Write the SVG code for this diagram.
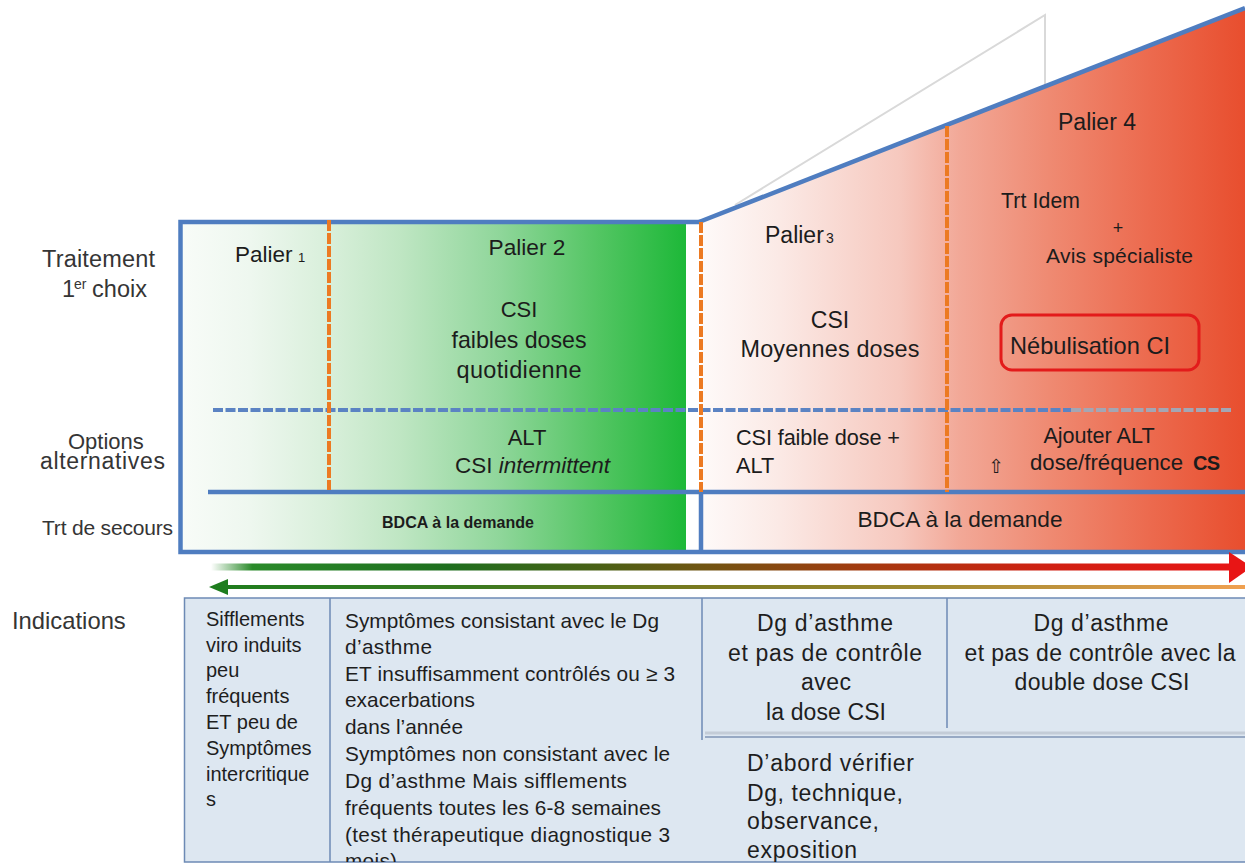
<svg xmlns="http://www.w3.org/2000/svg" width="1245" height="867" viewBox="0 0 1245 867">
<style>
text{font-family:"Liberation Sans",Arial,sans-serif}
.lbl{fill:#353535}
.t{fill:#1c1c1c}
.blue{stroke:#4f7dc0;fill:none;stroke-width:4.5}
.orange{stroke:#ec7a22;stroke-width:4;stroke-dasharray:11 2;fill:none}
.dash{stroke:#5b83c3;stroke-width:4;stroke-dasharray:10 2.5;fill:none}
.dashg{stroke:#a4a6b4;stroke-width:4;stroke-dasharray:10 2.5;fill:none}
.cell{fill:#1e1e1e}
.tline{stroke:#6d8ab5;stroke-width:1.5;fill:none}
</style>
<defs>
<linearGradient id="gGreen" gradientUnits="userSpaceOnUse" x1="182" y1="0" x2="686" y2="0">
<stop offset="0" stop-color="#f8fcf8"/>
<stop offset="0.135" stop-color="#eef7ef"/>
<stop offset="0.294" stop-color="#d8efda"/>
<stop offset="0.433" stop-color="#bfe6c3"/>
<stop offset="0.631" stop-color="#8fd69a"/>
<stop offset="0.829" stop-color="#52c562"/>
<stop offset="1" stop-color="#1db838"/>
</linearGradient>
<linearGradient id="gRed" gradientUnits="userSpaceOnUse" x1="701" y1="0" x2="1245" y2="0">
<stop offset="0" stop-color="#fefaf9"/>
<stop offset="0.145" stop-color="#fbe9e5"/>
<stop offset="0.366" stop-color="#f6c8be"/>
<stop offset="0.476" stop-color="#f2a897"/>
<stop offset="0.64" stop-color="#ef8a72"/>
<stop offset="0.825" stop-color="#ec6a4e"/>
<stop offset="1" stop-color="#e84e2e"/>
</linearGradient>
<linearGradient id="gA1" gradientUnits="userSpaceOnUse" x1="211" y1="0" x2="1245" y2="0">
<stop offset="0" stop-color="#ffffff"/>
<stop offset="0.04" stop-color="#2a8a2a"/>
<stop offset="0.23" stop-color="#1e6e1e"/>
<stop offset="0.376" stop-color="#4a6015"/>
<stop offset="0.473" stop-color="#6f5512"/>
<stop offset="0.637" stop-color="#a5390f"/>
<stop offset="0.811" stop-color="#d02012"/>
<stop offset="1" stop-color="#e81515"/>
</linearGradient>
<linearGradient id="gA2" gradientUnits="userSpaceOnUse" x1="209" y1="0" x2="1245" y2="0">
<stop offset="0" stop-color="#1e7d1e"/>
<stop offset="0.25" stop-color="#3a7a20"/>
<stop offset="0.48" stop-color="#7c7a20"/>
<stop offset="0.7" stop-color="#a08a30"/>
<stop offset="1" stop-color="#f0a050"/>
</linearGradient>
<clipPath id="tclip"><rect x="184" y="598" width="1061" height="264"/></clipPath>
</defs>
<rect width="1245" height="867" fill="#ffffff"/>

<g id="background">
<polyline points="735,205 1045,15 1045,90" stroke="#d9d9d9" stroke-width="2" fill="none"/>
<polygon points="701,222 1245,8 1245,552 701,552" fill="url(#gRed)"/>
<rect x="182" y="224" width="504" height="326" fill="url(#gGreen)"/>
<path class="blue" d="M701,222 H180.5 V552 H701"/>
<path class="blue" d="M699,222 L1245,8"/>
<path class="blue" d="M701,552 H1245 M701,492 V552"/>
<path class="dash" d="M213,410 H1071"/>
<path class="dashg" d="M1071,410 H1232"/>
<path class="blue" stroke-width="5" d="M208,492 H1245"/>
<path class="orange" d="M329,220 V490"/>
<path class="orange" d="M701,222 V492"/>
<path class="orange" d="M947,126 V492"/>
</g>

<g id="row-labels">
<text class="lbl" x="42" y="267" font-size="23.5" textLength="113">Traitement</text>
<text class="lbl" x="62" y="297" font-size="23.5">1<tspan x="74" dy="-8" font-size="14">er</tspan><tspan x="92" dy="8" textLength="55">choix</tspan></text>
<text class="lbl" x="68" y="449" font-size="22">Options</text>
<text class="lbl" x="40" y="469" font-size="23" textLength="125">alternatives</text>
<text class="lbl" x="42" y="535" font-size="21" textLength="131">Trt de secours</text>
<text class="lbl" x="12" y="629" font-size="23.8">Indications</text>
</g>

<g id="palier1">
<text class="t" x="235" y="262" font-size="22.5">Palier<tspan x="298" font-size="13">1</tspan></text>
</g>

<g id="palier2">
<text class="t" x="527" y="255" text-anchor="middle" font-size="22.7">Palier 2</text>
<text class="t" x="519" y="317" text-anchor="middle" font-size="22">CSI</text>
<text class="t" x="519" y="348" text-anchor="middle" font-size="23.2" textLength="135">faibles doses</text>
<text class="t" x="519" y="378" text-anchor="middle" font-size="23.5" textLength="125">quotidienne</text>
<text class="t" x="527" y="445" text-anchor="middle" font-size="22">ALT</text>
<text class="t" x="455" y="473" font-size="22.5">CSI <tspan font-style="italic">intermittent</tspan></text>
<text class="t" x="458" y="528" text-anchor="middle" font-size="16" font-weight="bold" textLength="152">BDCA à la demande</text>
</g>

<g id="palier3">
<text class="t" x="765" y="243" font-size="23">Palier<tspan x="826" font-size="14">3</tspan></text>
<text class="t" x="830" y="328" text-anchor="middle" font-size="23">CSI</text>
<text class="t" x="830" y="357" text-anchor="middle" font-size="23.4" textLength="179">Moyennes doses</text>
<text class="t" x="736" y="445" font-size="21.7" textLength="164">CSI faible dose +</text>
<text class="t" x="736" y="473" font-size="21.7">ALT</text>
<text class="t" x="960" y="527" text-anchor="middle" font-size="22.6" textLength="205">BDCA à la demande</text>
</g>

<g id="palier4">
<text class="t" x="1097" y="130" text-anchor="middle" font-size="23">Palier 4</text>
<text class="t" x="1001" y="208" font-size="21.2" textLength="79">Trt Idem</text>
<text class="t" x="1118" y="234" text-anchor="middle" font-size="18">+</text>
<text class="t" x="1046" y="263" font-size="21" textLength="147">Avis  spécialiste</text>
<rect x="1001" y="315" width="198" height="55" rx="11" fill="none" stroke="#e31b1b" stroke-width="3"/>
<text class="t" x="1010" y="354" font-size="23.6" textLength="160">Nébulisation CI</text>
<text class="t" x="1099" y="443" text-anchor="middle" font-size="21.6">Ajouter ALT</text>
<text class="t" x="988" y="473" font-size="19" style="font-family:'DejaVu Sans',sans-serif">⇧</text>
<text class="t" x="1030" y="470" font-size="22.2" textLength="153">dose/fréquence</text>
<text class="t" x="1193" y="470" font-size="20" font-weight="bold" textLength="27">CS</text>
</g>

<g id="connectors">
<line x1="211" y1="567" x2="1234" y2="567" stroke="url(#gA1)" stroke-width="7"/>
<polygon points="1229,552 1252,567 1229,583" fill="#e81515"/>
<line x1="224" y1="587" x2="1245" y2="587" stroke="url(#gA2)" stroke-width="4"/>
<polygon points="209,587 228,579 228,595" fill="#1e7d1e"/>
</g>

<g id="indications">
<rect x="184.5" y="598" width="1070" height="264" fill="#dde7f1" stroke="#6d8ab5" stroke-width="1.5"/>
<path class="tline" d="M330,598 V862 M702,598 V740 M947,598 V728"/>
<line x1="705" y1="733" x2="1245" y2="733" stroke="#b9c1cd" stroke-width="3" opacity="0.7"/>
<line x1="705" y1="737" x2="1245" y2="737" stroke="#7f95b5" stroke-width="1.5"/>
<g clip-path="url(#tclip)">
<g id="ind-col1" font-size="20">
<text class="cell" x="206" y="626">Sifflements</text>
<text class="cell" x="206" y="652">viro induits</text>
<text class="cell" x="206" y="677">peu</text>
<text class="cell" x="206" y="703">fréquents</text>
<text class="cell" x="206" y="729">ET peu de</text>
<text class="cell" x="206" y="755">Symptômes</text>
<text class="cell" x="206" y="781">intercritique</text>
<text class="cell" x="206" y="806">s</text>
</g>
<g id="ind-col2" font-size="20.8">
<text class="cell" x="345" y="628" textLength="314">Symptômes consistant avec le Dg</text>
<text class="cell" x="345" y="654" textLength="87">d’asthme</text>
<text class="cell" x="345" y="681" textLength="330">ET insuffisamment contrôlés ou ≥ 3</text>
<text class="cell" x="345" y="707" textLength="130">exacerbations</text>
<text class="cell" x="345" y="734" textLength="118">dans l’année</text>
<text class="cell" x="345" y="761" textLength="325">Symptômes non consistant avec le</text>
<text class="cell" x="345" y="788" textLength="282">Dg d’asthme  Mais sifflements</text>
<text class="cell" x="345" y="815" textLength="316">fréquents toutes les 6-8 semaines</text>
<text class="cell" x="345" y="842" textLength="325">(test thérapeutique diagnostique 3</text>
<text class="cell" x="345" y="868" textLength="52">mois)</text>
</g>
<g id="ind-col3" font-size="23">
<text class="cell" x="825" y="631" text-anchor="middle" textLength="136">Dg d’asthme</text>
<text class="cell" x="825" y="661" text-anchor="middle" textLength="194">et pas de contrôle</text>
<text class="cell" x="826" y="690" text-anchor="middle" textLength="50">avec</text>
<text class="cell" x="826" y="720" text-anchor="middle" textLength="120">la dose CSI</text>
<text class="cell" x="747" y="771" textLength="167">D’abord vérifier</text>
<text class="cell" x="747" y="801" textLength="156">Dg, technique,</text>
<text class="cell" x="747" y="829" textLength="132">observance,</text>
<text class="cell" x="747" y="858" textLength="110">exposition</text>
</g>
<g id="ind-col4" font-size="23">
<text class="cell" x="1101" y="631" text-anchor="middle" textLength="135">Dg d’asthme</text>
<text class="cell" x="1100" y="661" text-anchor="middle" textLength="271">et pas de contrôle avec la</text>
<text class="cell" x="1102" y="690" text-anchor="middle" textLength="175">double dose CSI</text>
</g>
</g>
</g>
</svg>
